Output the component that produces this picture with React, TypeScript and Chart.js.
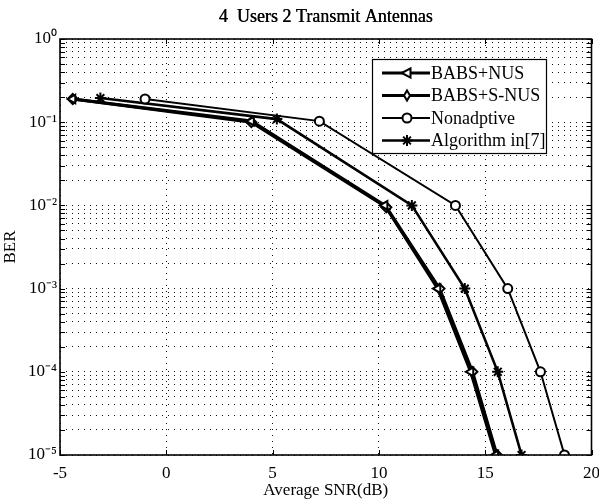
import React, { useEffect, useRef } from "react";
import { Chart, registerables } from "chart.js";

Chart.register(...registerables);

const titleText = "4  Users 2 Transmit Antennas";
const xTitle = "Average SNR(dB)";
const yTitle = "BER";

const seriesNames = ["BABS+NUS", "BABS+S-NUS", "Nonadptive", "Algorithm in[7]"];

const snrNus = [-4.4, 4.0, 10.28, 12.77, 14.32, 15.49];
const berNus = [0.19, 0.103, 0.01, 0.001, 1e-4, 1e-5];

const snrSNus = [-4.4, 4.0, 10.35, 12.85, 14.4, 15.55];
const berSNus = [0.19, 0.1, 0.0095, 0.001, 1e-4, 1e-5];

const snrNon = [-1.0, 7.2, 13.6, 16.06, 17.6, 18.73];
const berNon = [0.19, 0.103, 0.01, 0.001, 1e-4, 1e-5];

const snrAlg = [-3.1, 5.2, 11.55, 14.04, 15.59, 16.71];
const berAlg = [0.195, 0.109, 0.01, 0.001, 1e-4, 1e-5];

const xTicks = [-5, 0, 5, 10, 15, 20];
const yDecades = [-5, -4, -3, -2, -1, 0];
const yMantissas = [1, 2, 3, 4, 5, 6, 7, 8, 9];

const supMap: Record<string, string> = {
  "-": "\u207B",
  "0": "\u2070",
  "1": "\u00B9",
  "2": "\u00B2",
  "3": "\u00B3",
  "4": "\u2074",
  "5": "\u2075",
};

const FONT = "'Liberation Serif', 'Times New Roman', serif";

function buildYTicks(): number[] {
  const out: number[] = [];
  yDecades.forEach((d) => {
    if (d === 0) {
      out.push(1);
      return;
    }
    yMantissas.forEach((m) => out.push(parseFloat((m * Math.pow(10, d)).toPrecision(3))));
  });
  return out;
}

const yTickValues = buildYTicks();

function toXY(xs: number[], ys: number[]) {
  return xs.map((x, i) => ({ x, y: ys[i] }));
}

function drawMarker(ctx: CanvasRenderingContext2D, style: string, x: number, y: number, r: number, rot: number) {
  ctx.save();
  ctx.translate(x, y);
  ctx.rotate((rot * Math.PI) / 180);
  ctx.beginPath();
  if (style === "triangle") {
    const h = r * 1.4;
    ctx.moveTo(0, -h * 0.75);
    ctx.lineTo(h * 0.65, h * 0.5);
    ctx.lineTo(-h * 0.65, h * 0.5);
    ctx.closePath();
    ctx.fill();
    ctx.stroke();
  } else if (style === "rectRot") {
    ctx.moveTo(0, -r);
    ctx.lineTo(r * 0.6, 0);
    ctx.lineTo(0, r);
    ctx.lineTo(-r * 0.6, 0);
    ctx.closePath();
    ctx.fill();
    ctx.stroke();
  } else if (style === "circle") {
    ctx.arc(0, 0, r, 0, Math.PI * 2);
    ctx.fill();
    ctx.stroke();
  } else {
    for (let k = 0; k < 4; k++) {
      const a = (k * Math.PI) / 4;
      ctx.moveTo(Math.cos(a) * r, Math.sin(a) * r);
      ctx.lineTo(-Math.cos(a) * r, -Math.sin(a) * r);
    }
    ctx.stroke();
  }
  ctx.restore();
}

const decorPlugin = {
  id: "decor",
  afterDraw(chart: any) {
    const ctx = chart.ctx;
    const { left, right, top, bottom } = chart.chartArea;
    const xs = chart.scales.x;
    const ys = chart.scales.y;
    ctx.save();
    ctx.strokeStyle = "#000";
    ctx.lineWidth = 1;
    ctx.beginPath();
    yTickValues.forEach((v) => {
      const py = Math.round(ys.getPixelForValue(v)) + 0.5;
      ctx.moveTo(left, py);
      ctx.lineTo(left + 5, py);
      ctx.moveTo(right, py);
      ctx.lineTo(right - 5, py);
    });
    xTicks.forEach((v) => {
      const px = Math.round(xs.getPixelForValue(v)) + 0.5;
      ctx.moveTo(px, bottom);
      ctx.lineTo(px, bottom - 5);
      ctx.moveTo(px, top);
      ctx.lineTo(px, top + 5);
    });
    ctx.stroke();
    ctx.lineWidth = 1.6;
    ctx.strokeRect(left, top, right - left, bottom - top);

    ctx.fillStyle = "#000";
    ctx.font = `18px ${FONT}`;
    ctx.textAlign = "center";
    ctx.textBaseline = "middle";
    ctx.fillText(titleText, (left + right) / 2, 17);
    ctx.fillText(titleText, (left + right) / 2 + 0.4, 17);

    const lx = 372, ly = 59, lw = 174, lh = 94;
    ctx.fillStyle = "#fff";
    ctx.fillRect(lx, ly, lw, lh);
    ctx.strokeStyle = "#000";
    ctx.lineWidth = 1.2;
    ctx.strokeRect(lx + 0.5, ly + 0.5, lw, lh);
    chart.data.datasets.forEach((ds: any, i: number) => {
      const cy = ly + 14 + i * 22.5;
      ctx.strokeStyle = "#000";
      ctx.lineWidth = ds.borderWidth;
      ctx.beginPath();
      ctx.moveTo(lx + 10, cy);
      ctx.lineTo(lx + 58, cy);
      ctx.stroke();
      ctx.fillStyle = ds.pointBackgroundColor;
      ctx.lineWidth = ds.pointBorderWidth;
      drawMarker(ctx, ds.pointStyle, lx + 35, cy, ds.pointRadius, ds.pointRotation || 0);
      ctx.fillStyle = "#000";
      ctx.font = `18px ${FONT}`;
      ctx.textAlign = "left";
      ctx.textBaseline = "middle";
      ctx.fillText(ds.label, lx + 59, cy + 1);
    });
    ctx.restore();
  },
};

export default function App() {
  const ref = useRef<HTMLCanvasElement>(null);
  useEffect(() => {
    if (!ref.current) return;
    const common = {
      borderColor: "#000",
      pointBorderColor: "#000",
      showLine: true,
      fill: false,
      tension: 0,
    };
    const chart = new Chart(ref.current, {
      type: "scatter",
      data: {
        datasets: [
          {
            ...common,
            label: seriesNames[0],
            data: toXY(snrNus, berNus),
            borderWidth: 3.2,
            pointStyle: "triangle",
            pointRotation: -90,
            pointRadius: 5,
            pointBorderWidth: 2,
            pointBackgroundColor: "#fff",
          },
          {
            ...common,
            label: seriesNames[1],
            data: toXY(snrSNus, berSNus),
            borderWidth: 3.2,
            pointStyle: "rectRot",
            pointRadius: 5,
            pointBorderWidth: 2,
            pointBackgroundColor: "#fff",
          },
          {
            ...common,
            label: seriesNames[2],
            data: toXY(snrNon, berNon),
            borderWidth: 2,
            pointStyle: "circle",
            pointRadius: 4.5,
            pointBorderWidth: 2,
            pointBackgroundColor: "#fff",
          },
          {
            ...common,
            label: seriesNames[3],
            data: toXY(snrAlg, berAlg),
            borderWidth: 2.6,
            pointStyle: "star",
            pointRadius: 5.5,
            pointBorderWidth: 2,
            pointBackgroundColor: "#000",
          },
        ],
      } as any,
      options: {
        animation: false,
        responsive: false,
        maintainAspectRatio: false,
        layout: { padding: { top: 39, right: 6, left: 0, bottom: 0 } },
        plugins: {
          legend: { display: false },
          title: { display: false },
          tooltip: { enabled: false },
        },
        scales: {
          x: {
            type: "linear",
            min: -5,
            max: 20,
            afterBuildTicks: (scale: any) => {
              scale.ticks = xTicks.map((v) => ({ value: v }));
            },
            afterFit: (scale: any) => {
              scale.height = 46;
              scale.paddingLeft = 0;
              scale.paddingRight = 0;
            },
            ticks: {
              color: "#000",
              font: { family: FONT, size: 17 },
              padding: 8,
              maxRotation: 0,
              autoSkip: false,
            },
            grid: {
              color: "#111",
              lineWidth: 1,
              drawTicks: false,
            },
            border: { display: false, dash: [1, 5] },
            title: {
              display: true,
              text: xTitle,
              color: "#000",
              font: { family: FONT, size: 17 },
              padding: { top: 0, bottom: 0 },
            },
          },
          y: {
            type: "logarithmic",
            min: 1e-5,
            max: 1,
            afterBuildTicks: (scale: any) => {
              scale.ticks = yTickValues.map((v) => ({ value: v }));
            },
            afterFit: (scale: any) => {
              scale.width = 60;
              scale.paddingTop = 0;
              scale.paddingBottom = 0;
            },
            ticks: {
              color: "#000",
              font: { family: FONT, size: 17 },
              padding: 3,
              autoSkip: false,
              callback: (v: any) => {
                const e = Math.log10(Number(v));
                if (Math.abs(e - Math.round(e)) > 1e-9) return "";
                const s = String(Math.round(e))
                  .split("")
                  .map((c) => supMap[c] || c)
                  .join("");
                return "10" + s;
              },
            },
            grid: {
              color: "#111",
              lineWidth: 1,
              drawTicks: false,
            },
            border: { display: false, dash: [1, 5] },
            title: {
              display: true,
              text: yTitle,
              color: "#000",
              font: { family: FONT, size: 17 },
              padding: { top: 0, bottom: 0 },
            },
          },
        },
      } as any,
      plugins: [decorPlugin],
    });
    return () => chart.destroy();
  }, []);
  return (
    <div style={{ position: "absolute", left: 0, top: 0, width: 599, height: 501, background: "#fff" }}>
      <canvas ref={ref} width={599} height={501} style={{ width: 599, height: 501 }} />
    </div>
  );
}
